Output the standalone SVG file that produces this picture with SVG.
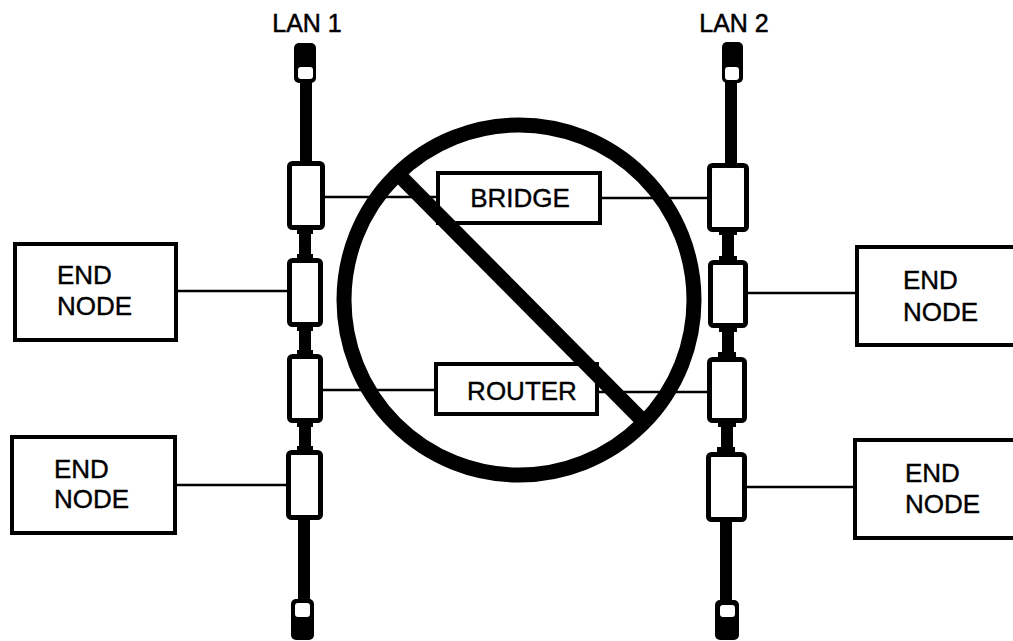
<svg xmlns="http://www.w3.org/2000/svg" width="1013" height="641" viewBox="0 0 1013 641">
<style>
  .lbl { font-family: "Liberation Sans", Arial, sans-serif; font-size: 26px; fill: #000; stroke: #000; stroke-width: 0.4; }
  .lan { font-family: "Liberation Sans", Arial, sans-serif; font-size: 25px; fill: #000; stroke: #000; stroke-width: 0.5; text-anchor: middle; }
  .box { fill: #fff; stroke: #000; stroke-width: 4; }
  .tap { fill: #fff; stroke: #000; stroke-width: 5; }
  .bus { fill: #000; }
  .hole { fill: #fff; }
  .wire { stroke: #000; stroke-width: 2.5; fill: none; }
</style>
<rect x="0" y="0" width="1013" height="641" fill="#fff"/>

<g id="connectors">
  <line class="wire" x1="178" y1="291" x2="288" y2="291"/>
  <line class="wire" x1="177" y1="485" x2="287" y2="485"/>
  <line class="wire" x1="324" y1="197" x2="438" y2="197"/>
  <line class="wire" x1="600" y1="198" x2="708" y2="198"/>
  <line class="wire" x1="322" y1="390" x2="436" y2="390"/>
  <line class="wire" x1="597" y1="392" x2="708" y2="392"/>
  <line class="wire" x1="747" y1="293" x2="857" y2="293"/>
  <line class="wire" x1="746" y1="487" x2="855" y2="487"/>
</g>

<g id="lan1">
  <text class="lan" x="307" y="32">LAN 1</text>
  <rect class="bus" x="294" y="43" width="22" height="40" rx="5"/>
  <rect class="hole" x="298" y="67" width="15" height="12" rx="3"/>
  <rect class="bus" x="300" y="80" width="12" height="84"/>
  <rect class="bus" x="299" y="228" width="12" height="32"/>
  <rect class="bus" x="299" y="325" width="12" height="32"/>
  <rect class="bus" x="299" y="421" width="12" height="32"/>
  <rect class="bus" x="298" y="518" width="12" height="84"/>
  <rect class="bus" x="291" y="599" width="23" height="41" rx="5"/>
  <rect class="hole" x="295" y="603" width="15" height="14" rx="3"/>
  <rect class="bus" x="297" y="228" width="16" height="6"/>
  <rect class="bus" x="297" y="254" width="16" height="6"/>
  <rect class="bus" x="297" y="325" width="16" height="6"/>
  <rect class="bus" x="297" y="350" width="16" height="6"/>
  <rect class="bus" x="297" y="421" width="16" height="6"/>
  <rect class="bus" x="297" y="446" width="16" height="6"/>
  <rect class="tap" x="289.5" y="163.5" width="33" height="64" rx="3"/>
  <rect class="tap" x="289.5" y="260.5" width="31" height="64" rx="3"/>
  <rect class="tap" x="289.5" y="356.5" width="31" height="64" rx="3"/>
  <rect class="tap" x="288.5" y="452.5" width="32" height="65" rx="3"/>
</g>

<g id="lan2">
  <text class="lan" x="734" y="32">LAN 2</text>
  <rect class="bus" x="722" y="42" width="21" height="41" rx="5"/>
  <rect class="hole" x="725" y="67" width="14" height="13" rx="3"/>
  <rect class="bus" x="725" y="80" width="12" height="85"/>
  <rect class="bus" x="722" y="229" width="12" height="33"/>
  <rect class="bus" x="722" y="326" width="12" height="33"/>
  <rect class="bus" x="721" y="421" width="12" height="33"/>
  <rect class="bus" x="720" y="520" width="12" height="82"/>
  <rect class="bus" x="715" y="600" width="24" height="40" rx="5"/>
  <rect class="hole" x="720" y="605" width="15" height="12" rx="3"/>
  <rect class="bus" x="719" y="229" width="18" height="6"/>
  <rect class="bus" x="719" y="256" width="18" height="6"/>
  <rect class="bus" x="719" y="326" width="18" height="6"/>
  <rect class="bus" x="718" y="352" width="18" height="6"/>
  <rect class="bus" x="718" y="421" width="18" height="6"/>
  <rect class="bus" x="717" y="447" width="18" height="6"/>
  <rect class="tap" x="709.5" y="165.5" width="37" height="64" rx="3"/>
  <rect class="tap" x="710.5" y="262.5" width="35" height="63" rx="3"/>
  <rect class="tap" x="709.5" y="359.5" width="35" height="61" rx="3"/>
  <rect class="tap" x="708.5" y="454.5" width="36" height="65" rx="3"/>
</g>

<g id="end-node-left-1">
  <rect class="box" x="15" y="244" width="161" height="96"/>
  <text class="lbl" x="57" y="284">END</text>
  <text class="lbl" x="57" y="315">NODE</text>
</g>
<g id="end-node-left-2">
  <rect class="box" x="12" y="437" width="163" height="96"/>
  <text class="lbl" x="54" y="478">END</text>
  <text class="lbl" x="54" y="508">NODE</text>
</g>
<g id="end-node-right-1">
  <rect class="box" x="857" y="247" width="170" height="98"/>
  <text class="lbl" x="903" y="289">END</text>
  <text class="lbl" x="903" y="321">NODE</text>
</g>
<g id="end-node-right-2">
  <rect class="box" x="855" y="440" width="170" height="98"/>
  <text class="lbl" x="905" y="482">END</text>
  <text class="lbl" x="905" y="513">NODE</text>
</g>

<g id="bridge">
  <rect class="box" x="438" y="173" width="162" height="50"/>
  <text class="lbl" x="520" y="207" text-anchor="middle">BRIDGE</text>
</g>
<g id="router">
  <rect class="box" x="436" y="364" width="161" height="50"/>
  <text class="lbl" x="522" y="400" text-anchor="middle">ROUTER</text>
</g>

<g id="prohibition">
  <circle cx="519" cy="300" r="175" fill="none" stroke="#000" stroke-width="15"/>
  <line x1="400" y1="176" x2="643" y2="421" stroke="#000" stroke-width="15"/>
</g>
</svg>
